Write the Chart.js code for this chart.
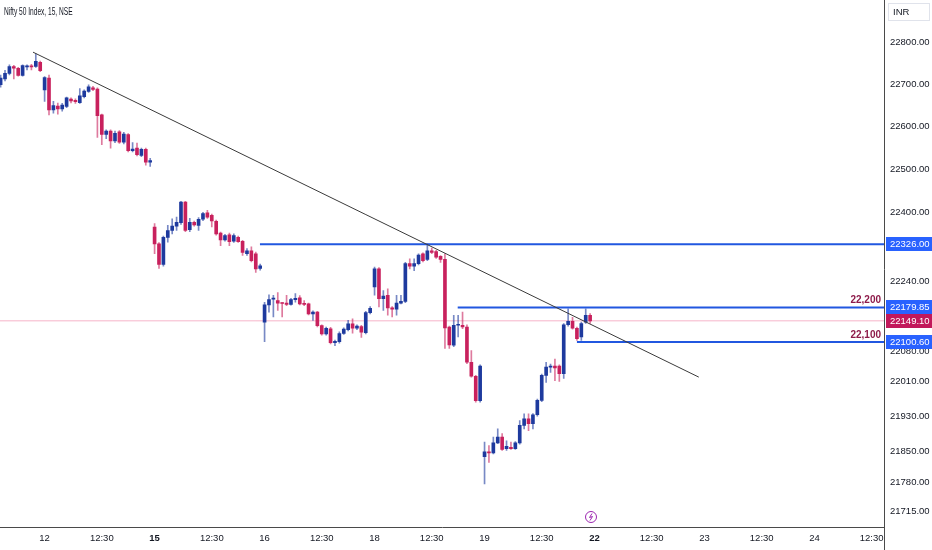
<!DOCTYPE html>
<html>
<head>
<meta charset="utf-8">
<script src="https://cdn.jsdelivr.net/npm/chart.js"></script>
<style>
  html, body { margin: 0; padding: 0; background: #fff; }
  #wrap { width: 932px; height: 550px; }
</style>
</head>
<body>
<div id="wrap"><canvas id="chart" width="932" height="550"></canvas></div>
<script>
// 15 min candles, 25 per session. index 0 = first candle of the 12th
const firstIndex = -10;

const opens = [
  // 11th (tail)
  22699, 22713, 22726, 22742, 22738, 22721, 22741, 22743, 22742, 22752,
  // 12th
  22687, 22715, 22640, 22649, 22642, 22648, 22665, 22662, 22657, 22671, 22683, 22692, 22689,
  22628, 22582, 22590, 22567, 22588, 22564, 22582, 22544, 22550, 22533, 22547, 22517,
  // 15th
  22366, 22327, 22279, 22342, 22358, 22368, 22376, 22424, 22360, 22377, 22370, 22384, 22399,
  22393, 22379, 22352, 22336, 22348, 22333, 22342, 22333, 22304, 22311, 22304, 22270,
  // 16th
  22146, 22186, 22199, 22196, 22190, 22190, 22187, 22198, 22202, 22189, 22188, 22165, 22169,
  22138, 22119, 22131, 22099, 22101, 22120, 22129, 22142, 22132, 22136, 22122, 22168,
  // 18th
  22227, 22269, 22200, 22208, 22179, 22176, 22190, 22194, 22281, 22275, 22281, 22304, 22291,
  22311, 22309, 22298, 22291, 22135, 22093, 22139, 22139, 22135, 22054, 22022, 21966,
  // 19th
  21839, 21850, 21847, 21870, 21883, 21857, 21860, 21857, 21870, 21910, 21925, 21914, 21934,
  21967, 22024, 22043, 22045, 22045, 22028, 22140, 22148, 22132, 22112, 22146, 22162
];
const highs = [
  22722, 22733, 22746, 22745, 22740, 22746, 22746, 22747, 22772, 22755,
  22718, 22722, 22660, 22656, 22655, 22670, 22668, 22666, 22690, 22687, 22699, 22695, 22692,
  22630, 22593, 22593, 22590, 22591, 22587, 22584, 22563, 22562, 22550, 22550, 22526,
  22374, 22330, 22345, 22370, 22385, 22389, 22426, 22426, 22386, 22380, 22388, 22400, 22405,
  22396, 22382, 22354, 22349, 22352, 22350, 22345, 22335, 22316, 22320, 22308, 22280,
  22192, 22209, 22208, 22214, 22191, 22208, 22201, 22212, 22207, 22196, 22190, 22172, 22171,
  22140, 22135, 22134, 22105, 22124, 22133, 22150, 22154, 22140, 22139, 22171, 22182,
  22273, 22272, 22219, 22223, 22182, 22208, 22208, 22284, 22292, 22292, 22304, 22306, 22327,
  22317, 22312, 22300, 22304, 22137, 22162, 22162, 22169, 22140, 22081, 22024, 22048,
  21872, 21864, 21883, 21902, 21891, 21875, 21872, 21873, 21921, 21936, 21936, 21937, 21970,
  22027, 22054, 22050, 22061, 22048, 22143, 22177, 22157, 22135, 22146, 22177, 22166
];
const lows = [
  22693, 22708, 22722, 22713, 22719, 22719, 22734, 22734, 22740, 22730,
  22660, 22628, 22632, 22630, 22637, 22645, 22656, 22655, 22655, 22668, 22681, 22685, 22575,
  22558, 22572, 22550, 22563, 22561, 22560, 22541, 22541, 22532, 22530, 22510, 22507,
  22304, 22270, 22275, 22331, 22350, 22358, 22372, 22355, 22355, 22368, 22358, 22381, 22386,
  22366, 22347, 22323, 22333, 22323, 22330, 22330, 22300, 22300, 22285, 22261, 22266,
  22101, 22169, 22158, 22173, 22158, 22184, 22185, 22192, 22186, 22184, 22163, 22150, 22135,
  22116, 22116, 22096, 22092, 22098, 22118, 22126, 22121, 22129, 22111, 22119, 22165,
  22208, 22181, 22173, 22162, 22158, 22162, 22188, 22191, 22269, 22265, 22278, 22285, 22288,
  22304, 22293, 22284, 22086, 22086, 22090, 22112, 22131, 22051, 22020, 21963, 21963,
  21777, 21826, 21845, 21868, 21853, 21853, 21855, 21855, 21867, 21902, 21898, 21902, 21931,
  21964, 22008, 22031, 22012, 22010, 22017, 22137, 22130, 22104, 22104, 22143, 22143
];
const closes = [
  22715, 22726, 22742, 22738, 22721, 22744, 22743, 22741, 22754, 22732,
  22716, 22640, 22650, 22642, 22651, 22668, 22661, 22659, 22673, 22684, 22694, 22688, 22626,
  22582, 22590, 22567, 22585, 22564, 22583, 22544, 22548, 22535, 22547, 22517, 22521,
  22327, 22279, 22342, 22358, 22368, 22377, 22424, 22358, 22377, 22371, 22384, 22397, 22389,
  22380, 22350, 22336, 22346, 22332, 22346, 22332, 22307, 22311, 22288, 22269, 22276,
  22186, 22198, 22201, 22190, 22189, 22187, 22198, 22201, 22188, 22187, 22165, 22169, 22138,
  22119, 22132, 22099, 22102, 22120, 22130, 22142, 22132, 22137, 22123, 22168, 22178,
  22269, 22200, 22206, 22179, 22176, 22190, 22194, 22281, 22275, 22281, 22301, 22288, 22311,
  22307, 22296, 22291, 22133, 22094, 22139, 22140, 22135, 22054, 22022, 21966, 22045,
  21850, 21847, 21870, 21883, 21855, 21862, 21857, 21870, 21910, 21925, 21914, 21934, 21967,
  22024, 22043, 22045, 22041, 22028, 22140, 22148, 22132, 22108, 22143, 22162, 22149.1
];

const priceTicks = [22800, 22700, 22600, 22500, 22400, 22320, 22240, 22160, 22080, 22010, 21930, 21850, 21780, 21715];
const timeTicks = [0, 13, 25, 38, 50, 63, 75, 88, 100, 113, 125, 138, 150, 163, 175, 188];
const timeTickLabels = ['12', '12:30', '15', '12:30', '16', '12:30', '18', '12:30', '19', '12:30', '22', '12:30', '23', '12:30', '24', '12:30'];
const boldTicks = ['15', '22'];

const levels = [22326.00, 22179.85, 22100.60];
const levelStart = [48.95, 93.9, 121];
const levelNotes = ['', '22,200', '22,100'];
const lastPrice = 22149.10;
const trendX = [-2.64, 148.7];
const trendY = [22776, 22020];

const xMin = -10.14, xMax = 190.8;
const yMin = 21679.8, yMax = 22871.9;

const UP = '#1e3a9e', DOWN = '#c8215d';
const UP_WICK = 'rgba(30,58,158,0.6)', DOWN_WICK = 'rgba(200,33,93,0.6)';
const LEVEL = '#2157e0';
const FONT = '"Liberation Sans", Arial, sans-serif';

const isUp = opens.map((o, i) => closes[i] >= o);

const overlay = {
  id: 'overlay',
  afterDraw(chart) {
    const ctx = chart.ctx;
    const ys = chart.scales.y, xs = chart.scales.x;
    const area = chart.chartArea;
    ctx.save();

    // price axis line runs the full height
    ctx.strokeStyle = '#4a4a4a';
    ctx.lineWidth = 1;
    ctx.beginPath();
    ctx.moveTo(area.right + 0.5, 0);
    ctx.lineTo(area.right + 0.5, area.top);
    ctx.moveTo(area.right + 0.5, area.bottom);
    ctx.lineTo(area.right + 0.5, chart.height);
    ctx.stroke();

    // notes above the lines
    ctx.font = 'bold 10px ' + FONT;
    ctx.fillStyle = '#8e1b4a';
    ctx.textAlign = 'right';
    ctx.textBaseline = 'middle';
    levels.forEach((v, i) => {
      if (levelNotes[i]) ctx.fillText(levelNotes[i], area.right - 3, ys.getPixelForValue(v) - 7);
    });

    // price tags on the axis
    ctx.font = '9.5px ' + FONT;
    ctx.textAlign = 'left';
    const tags = levels.map(v => [v, '#2962ff']).concat([[lastPrice, '#c2185b']]);
    tags.forEach(([v, col]) => {
      const py = Math.round(ys.getPixelForValue(v));
      ctx.fillStyle = col;
      ctx.fillRect(area.right + 2, py - 7, chart.width - area.right - 2, 14);
      ctx.fillStyle = '#fff';
      ctx.fillText(v.toFixed(2), area.right + 6, py + 0.5);
    });

    // currency box
    ctx.strokeStyle = '#e0e3eb';
    ctx.fillStyle = '#fff';
    ctx.fillRect(888, 3, 42, 17);
    ctx.strokeRect(888.5, 3.5, 41, 17);
    ctx.fillStyle = '#131722';
    ctx.fillText('INR', 893, 12.5);

    // title
    ctx.save();
    ctx.translate(4, 12);
    ctx.scale(0.66, 1);
    ctx.font = '10px ' + FONT;
    ctx.fillStyle = '#131722';
    ctx.fillText('Nifty 50 Index, 15, NSE', 0, 0);
    ctx.restore();

    // event marker
    const ex = xs.getPixelForValue(124.2), ey = area.bottom - 10;
    ctx.strokeStyle = '#9c27b0';
    ctx.lineWidth = 1;
    ctx.beginPath();
    ctx.arc(ex, ey, 5.5, 0, Math.PI * 2);
    ctx.stroke();
    ctx.beginPath();
    ctx.moveTo(ex + 1, ey - 3.5);
    ctx.lineTo(ex - 1.5, ey + 0.5);
    ctx.lineTo(ex + 1.5, ey - 0.5);
    ctx.lineTo(ex - 1, ey + 3.5);
    ctx.stroke();
    ctx.restore();
  }
};

const lineSet = (xa, ya, color, width, order) => ({
  type: 'line',
  data: xa.map((x, i) => ({ x: x, y: ya[i] })),
  borderColor: color,
  borderWidth: width,
  pointRadius: 0,
  fill: false,
  order: order
});

const datasets = [
  lineSet([xMin, xMax], [lastPrice, lastPrice], 'rgba(240,130,165,0.6)', 1, 10),
  {
    type: 'bar',
    data: opens.map((o, i) => ({ x: firstIndex + i, y: [lows[i], highs[i]] })),
    backgroundColor: isUp.map(u => u ? UP_WICK : DOWN_WICK),
    barThickness: 1,
    grouped: false,
    order: 6
  },
  {
    type: 'bar',
    data: opens.map((o, i) => ({ x: firstIndex + i, y: [o, closes[i]] })),
    backgroundColor: isUp.map(u => u ? UP : DOWN),
    barThickness: 3,
    minBarLength: 1,
    grouped: false,
    order: 5
  }
];
levels.forEach((v, i) => datasets.push(lineSet([levelStart[i], xMax], [v, v], LEVEL, 2, 3)));
datasets.push(lineSet(trendX, trendY, '#3a3a3a', 1, 2));

new Chart(document.getElementById('chart').getContext('2d'), {
  type: 'bar',
  data: { datasets: datasets },
  options: {
    responsive: false,
    animation: false,
    events: [],
    layout: { padding: 0 },
    plugins: { legend: { display: false }, tooltip: { enabled: false } },
    scales: {
      x: {
        type: 'linear',
        min: xMin,
        max: xMax,
        offset: false,
        grid: { display: false, drawTicks: false },
        border: { display: true, color: '#4a4a4a', width: 1 },
        afterBuildTicks: s => { s.ticks = timeTicks.map(v => ({ value: v })); },
        afterFit: s => { s.height = 23; },
        ticks: {
          autoSkip: false,
          maxRotation: 0,
          padding: 6,
          color: '#131722',
          font: c => {
            const i = c.tick ? timeTicks.indexOf(c.tick.value) : -1;
            const bold = i >= 0 && boldTicks.includes(timeTickLabels[i]);
            return { family: FONT, size: 9.5, weight: bold ? 'bold' : 'normal' };
          },
          callback: (v, i) => timeTickLabels[i]
        }
      },
      y: {
        type: 'logarithmic',
        position: 'right',
        min: yMin,
        max: yMax,
        grid: { display: false, drawTicks: false },
        border: { display: true, color: '#4a4a4a', width: 1 },
        afterBuildTicks: s => { s.ticks = priceTicks.map(v => ({ value: v })); },
        afterFit: s => { s.width = 48; },
        ticks: {
          padding: 6,
          color: '#131722',
          font: { family: FONT, size: 9.5 },
          callback: v => Number(v).toFixed(2)
        }
      }
    }
  },
  plugins: [overlay]
});
</script>
</body>
</html>
